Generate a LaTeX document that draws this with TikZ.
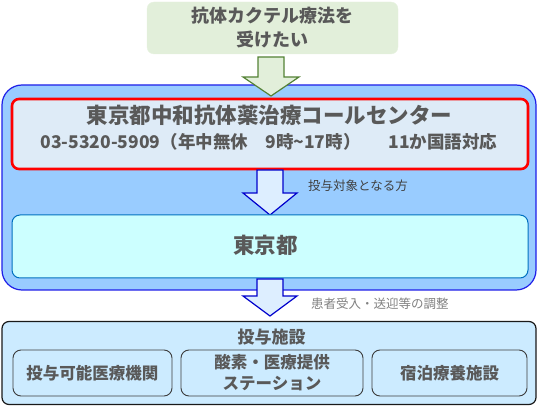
\documentclass[tikz,border=0pt]{standalone}
\usepackage{fontspec}
\setmainfont{Noto Sans CJK JP}
\definecolor{txtgray}{HTML}{595959}
\definecolor{lblgray}{HTML}{404040}
\definecolor{lblgray2}{HTML}{808080}
\definecolor{greenfill}{HTML}{E2EFDA}
\definecolor{greenline}{HTML}{548235}
\definecolor{bigfill}{HTML}{99CCFF}
\definecolor{bigline}{HTML}{1F1FE8}
\definecolor{redfill}{HTML}{DEEBF7}
\definecolor{arrowfill}{HTML}{DDEEFF}
\definecolor{arrowline}{HTML}{0000CC}
\definecolor{cyanfill}{HTML}{CCFFFF}
\definecolor{cyanline}{HTML}{0070C0}
\definecolor{botfill}{HTML}{CCEBFF}
\definecolor{botline}{HTML}{1A1A1A}
\newcommand\blockarr[7]{%
  \draw[#1] ({#2-#5},#3) -- ({#2+#5},#3) -- ({#2+#5},#4) -- ({#2+#6},#4)
    -- (#2,#7) -- ({#2-#6},#4) -- ({#2-#5},#4) -- cycle;}
\begin{document}
\begin{tikzpicture}[x=1pt,y=-1pt,
  box/.style={inner sep=0pt, align=center, text=txtgray, font=\bfseries},
  lbl/.style={inner sep=0pt, anchor=west, font=\fontsize{12.5}{14}\selectfont}]
\useasboundingbox (0,0) rectangle (539,406);
% top green box
\node[box, fill=greenfill, draw=greenfill!80!white, rounded corners=7pt,
  minimum width=251pt, minimum height=52pt,
  font=\bfseries\fontsize{18}{24}\selectfont] (want) at (272.5,28)
  {抗体カクテル療法を\\受けたい};
% big blue box
\node[fill=bigfill, draw=bigline, line width=1.2pt, rounded corners=20pt,
  minimum width=534pt, minimum height=205pt, inner sep=0pt] (big) at (269,187.5) {};
% green arrow
\blockarr{fill=greenfill, draw=greenline, line width=1.2pt, line join=miter}{271}{57}{77}{13}{28}{96}
% red call center box
\node[fill=redfill, draw=red, line width=2.6pt, rounded corners=7pt,
  minimum width=516pt, minimum height=70pt, inner sep=0pt] (call) at (270,134) {};
\node[box, font=\bfseries\fontsize{21.5}{26}\selectfont] (calltitle) at (269.5,115)
  {東京都中和抗体薬治療コールセンター};
\node[box, font=\bfseries\fontsize{17.5}{20}\selectfont] (callinfo) at (269,142)
  {03-5320-5909（年中無休\hspace{1em}9時\textasciitilde17時）\hspace{1.6em}11か国語対応};
% arrow 2
\blockarr{fill=arrowfill, draw=arrowline, line width=1.2pt, line join=miter}{270}{170}{193}{13}{27}{215}
\node[lbl, text=lblgray] (lab1) at (308,186) {投与対象となる方};
% Tokyo box
\node[box, fill=cyanfill, draw=cyanline, line width=1pt, rounded corners=8pt,
  minimum width=516pt, minimum height=63pt] (tokyo) at (270,246.5) {};
\node[box, font=\bfseries\fontsize{21.5}{24}\selectfont] (tokyotxt) at (265.5,245) {東京都};
% bottom box
\node[fill=botfill, draw=botline, line width=1.2pt, rounded corners=7pt,
  minimum width=534pt, minimum height=83pt, inner sep=0pt] (fac) at (269,363) {};
\node[box, font=\bfseries\fontsize{17}{20}\selectfont] (factitle) at (271.5,337) {投与施設};
% arrow 3
\blockarr{fill=arrowfill, draw=arrowline, line width=1.2pt, line join=miter}{270}{279}{296}{13}{27}{316}
\node[lbl, text=lblgray2] (lab2) at (311,304) {患者受入・送迎等の調整};
% sub boxes
\tikzset{sub/.style={box, fill=botfill, draw=botline!85!white, line width=0.9pt,
  rounded corners=8pt, minimum height=46pt, font=\bfseries\fontsize{16.5}{21}\selectfont}}
\node[sub, minimum width=159pt] (s1) at (92.5,373) {投与可能医療機関};
\node[sub, minimum width=182pt] (s2) at (272,373) {酸素・医療提供\\ステーション};
\node[sub, minimum width=155pt] (s3) at (449.5,373) {宿泊療養施設};
\end{tikzpicture}
\end{document}
